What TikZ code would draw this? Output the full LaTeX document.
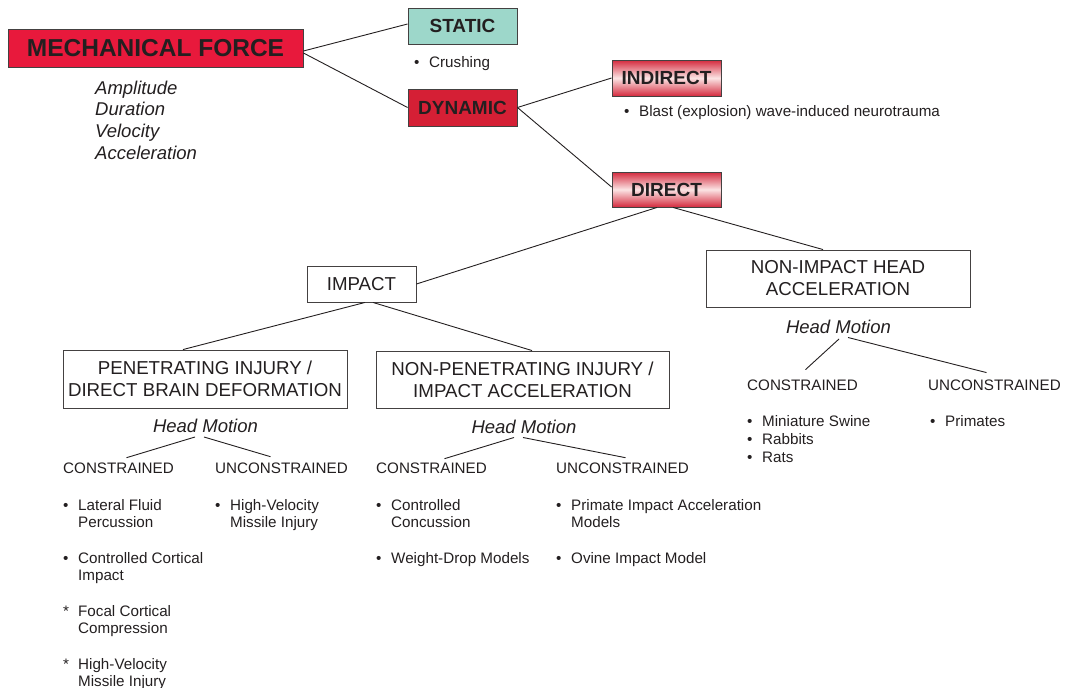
\documentclass[tikz,border=0pt]{standalone}
\usepackage{fontspec}
\setmainfont{Liberation Sans}
\usepackage{xcolor}
\usepackage{tikz}
\usetikzlibrary{arrows,positioning,shapes,calc}

\definecolor{forcered}{HTML}{E8193C}
\definecolor{dynred}{HTML}{D51F35}
\definecolor{statgreen}{HTML}{9DD7CA}
\definecolor{shadered}{HTML}{D42A3E}
\definecolor{shadepale}{HTML}{FBE4E4}
\definecolor{ink}{HTML}{231F20}

% bullet item: mark, then the lines of its text
\newcommand{\itm}[2]{\begin{tabular}[t]{@{}l@{}l@{}}\makebox[15pt][l]{#1}&\begin{tabular}[t]{@{}l@{}}#2\end{tabular}\end{tabular}}

\begin{document}
\begin{tikzpicture}[x=1pt, y=-1pt,
    every node/.style={inner sep=0pt, text=ink},
    keybox/.style={draw=ink!85, line width=0.9pt, align=center, font=\fontsize{19}{22}\selectfont\bfseries},
    shadebox/.style={keybox, top color=shadered, bottom color=shadered, middle color=shadepale},
    plainbox/.style={draw=ink!85, line width=0.9pt, align=center, fill=white, font=\fontsize{18.7}{22}\selectfont},
    motion/.style={font=\fontsize{18.5}{22}\selectfont\itshape},
    kind/.style={anchor=base west, font=\fontsize{15.2}{17}\selectfont},
    entry/.style={anchor=base west, font=\fontsize{15.2}{17}\selectfont},
    link/.style={draw=ink, line width=0.9pt}]
    \useasboundingbox (0,0) rectangle (1066,688);

    % Top level
    \node[keybox, fill=forcered, minimum width=295, minimum height=38, font=\fontsize{24.5}{26}\selectfont\bfseries] (force) at (155.5,48) {MECHANICAL FORCE};
    \node[anchor=north west, align=left, font=\fontsize{18.5}{21.7}\selectfont\itshape] (params) at (95,80.5) {Amplitude\\Duration\\Velocity\\Acceleration};

    \node[keybox, fill=statgreen, minimum width=109, minimum height=36] (static) at (462.5,26) {STATIC};
    \node[entry] (crush) at (414,67) {\itm{\textbullet}{Crushing}};
    \node[keybox, fill=dynred, minimum width=109, minimum height=37] (dynamic) at (462.5,107.5) {DYNAMIC};

    \draw[link] ($(force.east)+(0,3)$) -- ($(static.west)+(0,-2)$);
    \draw[link] ($(force.east)+(0,5)$) -- (dynamic.west);

    % Indirect / direct
    \node[shadebox, minimum width=109, minimum height=36] (indirect) at (666.5,78) {INDIRECT};
    \node[entry] (blast) at (624,116) {\itm{\textbullet}{Blast (explosion) wave-induced neurotrauma}};
    \node[shadebox, minimum width=109, minimum height=35] (direct) at (666.5,189.5) {DIRECT};

    \draw[link] (dynamic.east) -- (indirect.west);
    \draw[link] (dynamic.east) -- ($(direct.west)+(0,-2.5)$);

    % Impact and non-impact
    \node[plainbox, minimum width=109, minimum height=36] (impact) at (361.5,284) {IMPACT};
    \node[plainbox, minimum width=264, minimum height=57] (nonimpact) at (838,278.5) {NON-IMPACT HEAD\\ACCELERATION};

    \draw[link] ($(direct.south)+(-9.5,0)$) -- (impact.east);
    \draw[link] ($(direct.south)+(6.5,0)$) -- ($(nonimpact.north)+(-15,0)$);

    \node[motion] (hmI) at (838.5,327) {Head Motion};
    \node[kind] (conI) at (747,390) {CONSTRAINED};
    \node[kind] (unconI) at (928,390) {UNCONSTRAINED};
    \draw[link] ($(hmI.south)+(0.5,5)$) -- ($(conI.north)+(3,-9.6)$);
    \draw[link] ($(hmI.south)+(9.5,3.5)$) -- ($(unconI.north)+(-8,-6.6)$);

    \node[entry] (swine) at (747,426) {\itm{\textbullet}{Miniature Swine}};
    \node[entry] (rabbit) at (747,444) {\itm{\textbullet}{Rabbits}};
    \node[entry] (rat) at (747,462) {\itm{\textbullet}{Rats}};
    \node[entry] (primate) at (930,426) {\itm{\textbullet}{Primates}};

    % Penetrating / non-penetrating
    \node[plainbox, minimum width=284, minimum height=58] (pen) at (205,379) {PENETRATING INJURY /\\DIRECT BRAIN DEFORMATION};
    \node[plainbox, minimum width=293, minimum height=57] (nonpen) at (522.5,379.5) {NON-PENETRATING INJURY /\\IMPACT ACCELERATION};

    \draw[link] ($(impact.south)+(3.5,0)$) -- ($(pen.north)+(-22,0)$);
    \draw[link] ($(impact.south)+(11.5,0)$) -- ($(nonpen.north)+(9.5,0)$);

    \node[motion] (hmP) at (205.5,426) {Head Motion};
    \node[kind] (conP) at (63,473) {CONSTRAINED};
    \node[kind] (unconP) at (215,473) {UNCONSTRAINED};
    \draw[link] ($(hmP.south)+(-10.5,4)$) -- ($(conP.north)+(8,-4.5)$);
    \draw[link] ($(hmP.south)+(-1.5,4)$) -- ($(unconP.north)+(-11,-5.5)$);

    \node[entry] (fluid) at (63,510) {\itm{\textbullet}{Lateral Fluid\\Percussion}};
    \node[entry] (cortical) at (63,563) {\itm{\textbullet}{Controlled Cortical\\Impact}};
    \node[entry] (focal) at (63,616) {\itm{*}{Focal Cortical\\Compression}};
    \node[entry] (missileA) at (63,669) {\itm{*}{High-Velocity\\Missile Injury}};
    \node[entry] (missileB) at (215,510) {\itm{\textbullet}{High-Velocity\\Missile Injury}};

    \node[motion] (hmN) at (524,427) {Head Motion};
    \node[kind] (conN) at (376,473) {CONSTRAINED};
    \node[kind] (unconN) at (556,473) {UNCONSTRAINED};
    \draw[link] ($(hmN.south)+(-10,3.5)$) -- ($(conN.north)+(13,-3.5)$);
    \draw[link] ($(hmN.south)+(-1,3.5)$) -- ($(unconN.north)+(3,-4.5)$);

    \node[entry] (concuss) at (376,510) {\itm{\textbullet}{Controlled\\Concussion}};
    \node[entry] (drop) at (376,563) {\itm{\textbullet}{Weight-Drop Models}};
    \node[entry] (primimp) at (556,510) {\itm{\textbullet}{Primate Impact Acceleration\\Models}};
    \node[entry] (ovine) at (556,563) {\itm{\textbullet}{Ovine Impact Model}};
\end{tikzpicture}
\end{document}
